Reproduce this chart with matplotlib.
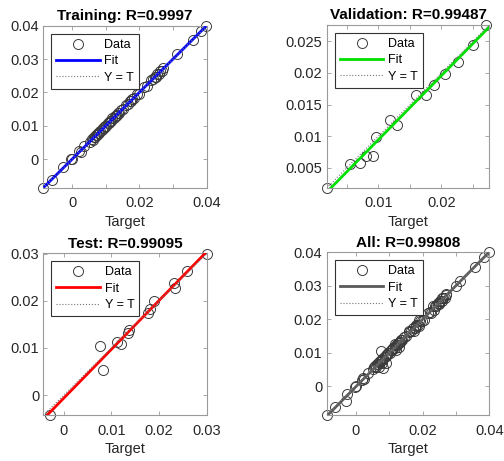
import numpy as np
import matplotlib
matplotlib.use("Agg")
import matplotlib.pyplot as plt
from matplotlib.ticker import FuncFormatter, FixedLocator

plt.rcParams['font.family'] = ['Liberation Sans', 'DejaVu Sans']

# Regression data (targets vs. network outputs)
train_t = [-0.0086, -0.0061, -0.0026, -0.0003, 0.0001, 0.0021, 0.0025, 0.0036,
           0.0052, 0.0058, 0.0061, 0.0065, 0.0068, 0.0071, 0.0074, 0.0077,
           0.0080, 0.0083, 0.0088, 0.0091, 0.0094, 0.0098, 0.0102, 0.0106,
           0.0110, 0.0113, 0.0117, 0.0120, 0.0124, 0.0128, 0.0131, 0.0134,
           0.0136, 0.0139, 0.0145, 0.0152, 0.0160, 0.0166, 0.0172, 0.0176,
           0.0179, 0.0185, 0.0192, 0.0198, 0.0215, 0.0222, 0.0236, 0.0241,
           0.0245, 0.0249, 0.0253, 0.0257, 0.0262, 0.0266, 0.0270, 0.0312,
           0.0358, 0.0383, 0.0399]
train_y = [-0.0087, -0.0063, -0.0024, -0.0001, 0.0000, 0.0023, 0.0022, 0.0038,
           0.0050, 0.0060, 0.0058, 0.0067, 0.0066, 0.0073, 0.0072, 0.0079,
           0.0078, 0.0085, 0.0086, 0.0093, 0.0092, 0.0100, 0.0100, 0.0108,
           0.0108, 0.0115, 0.0115, 0.0122, 0.0122, 0.0130, 0.0129, 0.0133,
           0.0137, 0.0138, 0.0147, 0.0150, 0.0162, 0.0164, 0.0174, 0.0174,
           0.0181, 0.0183, 0.0194, 0.0196, 0.0217, 0.0220, 0.0238, 0.0239,
           0.0247, 0.0247, 0.0255, 0.0255, 0.0264, 0.0264, 0.0272, 0.0314,
           0.0356, 0.0385, 0.0400]

val_t = [0.0019, 0.0055, 0.0071, 0.0080, 0.0091, 0.0097, 0.0118, 0.0129,
         0.0159, 0.0175, 0.0188, 0.0205, 0.0226, 0.0250, 0.0270]
val_y = [0.0018, 0.0056, 0.0058, 0.0069, 0.0069, 0.0098, 0.0126, 0.0118,
         0.0165, 0.0165, 0.0181, 0.0198, 0.0218, 0.0244, 0.0276]

test_t = [-0.0029, 0.0077, 0.0082, 0.0112, 0.0120, 0.0134, 0.0136, 0.0177,
          0.0181, 0.0189, 0.0232, 0.0233, 0.0259, 0.0301]
test_y = [-0.0043, 0.0105, 0.0054, 0.0113, 0.0109, 0.0132, 0.0139, 0.0173,
          0.0182, 0.0199, 0.0238, 0.0226, 0.0263, 0.0300]

titles = ["Training: R=0.9997", "Validation: R=0.99487",
          "Test: R=0.99095", "All: R=0.99808"]
fit_colors = ["#0000ff", "#00e000", "#ff0000", "#5a5a5a"]

all_t = train_t + val_t + test_t
all_y = train_y + val_y + test_y
datasets = [(train_t, train_y), (val_t, val_y), (test_t, test_y), (all_t, all_y)]

xticks = [[0, 0.02, 0.04], [0.01, 0.02], [0, 0.01, 0.02, 0.03], [0, 0.02, 0.04]]
xminor = [[0.01, 0.03], [0.005, 0.015, 0.025], [], [0.01, 0.03]]
yticks = [[0, 0.01, 0.02, 0.03, 0.04], [0.005, 0.01, 0.015, 0.02, 0.025],
          [0, 0.01, 0.02, 0.03], [0, 0.01, 0.02, 0.03, 0.04]]

fig = plt.figure(figsize=(5.04, 4.61), dpi=100)
positions = [[0.085, 0.592, 0.325, 0.352], [0.648, 0.592, 0.323, 0.354],
             [0.086, 0.099, 0.325, 0.352], [0.648, 0.099, 0.323, 0.354]]

fmt = FuncFormatter(lambda v, p: f"{v:g}")
frame_col = "#9a9a9a"
text_col = "#262626"

for i, (pos, (t, y)) in enumerate(zip(positions, datasets)):
    ax = fig.add_axes(pos)
    t = np.asarray(t)
    y = np.asarray(y)
    lo = min(t.min(), y.min())
    hi = max(t.max(), y.max())
    m, b = np.polyfit(t, y, 1)
    xs = np.array([lo, hi])

    ax.plot(t, y, 'o', ms=7.2, mfc='none', mec='#3a3a3a', mew=0.7,
            label='Data', zorder=2, clip_on=False)
    ax.plot(xs, m * xs + b, '-', color=fit_colors[i], lw=2, label='Fit', zorder=3)
    ax.plot(xs, xs, ':', color='#777777', lw=0.8, label='Y = T', zorder=4)

    ax.set_xlim(lo, hi)
    ax.set_ylim(lo, hi)
    ax.xaxis.set_major_locator(FixedLocator(xticks[i]))
    ax.xaxis.set_minor_locator(FixedLocator(xminor[i]))
    ax.yaxis.set_major_locator(FixedLocator(yticks[i]))
    ax.xaxis.set_major_formatter(fmt)
    ax.yaxis.set_major_formatter(fmt)
    ax.tick_params(which='both', direction='in', top=True, right=True,
                   length=3, width=0.6, color=frame_col,
                   labelsize=10.5, labelcolor=text_col)
    ax.tick_params(axis='x', which='major', pad=6)
    ax.tick_params(axis='y', which='major', pad=3)
    for s in ax.spines.values():
        s.set_color(frame_col)
        s.set_linewidth(0.8)

    ax.set_title(titles[i], fontsize=11, fontweight='bold', color='black', pad=4)
    ax.set_xlabel('Target', fontsize=10.5, color=text_col, labelpad=3)

    leg = ax.legend(loc='upper left', fontsize=9, numpoints=1, handlelength=3.5,
                    handletextpad=0.35, labelspacing=0.35, borderpad=0.4,
                    borderaxespad=0.65, fancybox=False, framealpha=1)
    leg.get_frame().set_edgecolor('#333333')
    leg.get_frame().set_linewidth(0.8)
    leg.set_zorder(10)

fig.savefig("out.png", dpi=100, facecolor='white')
